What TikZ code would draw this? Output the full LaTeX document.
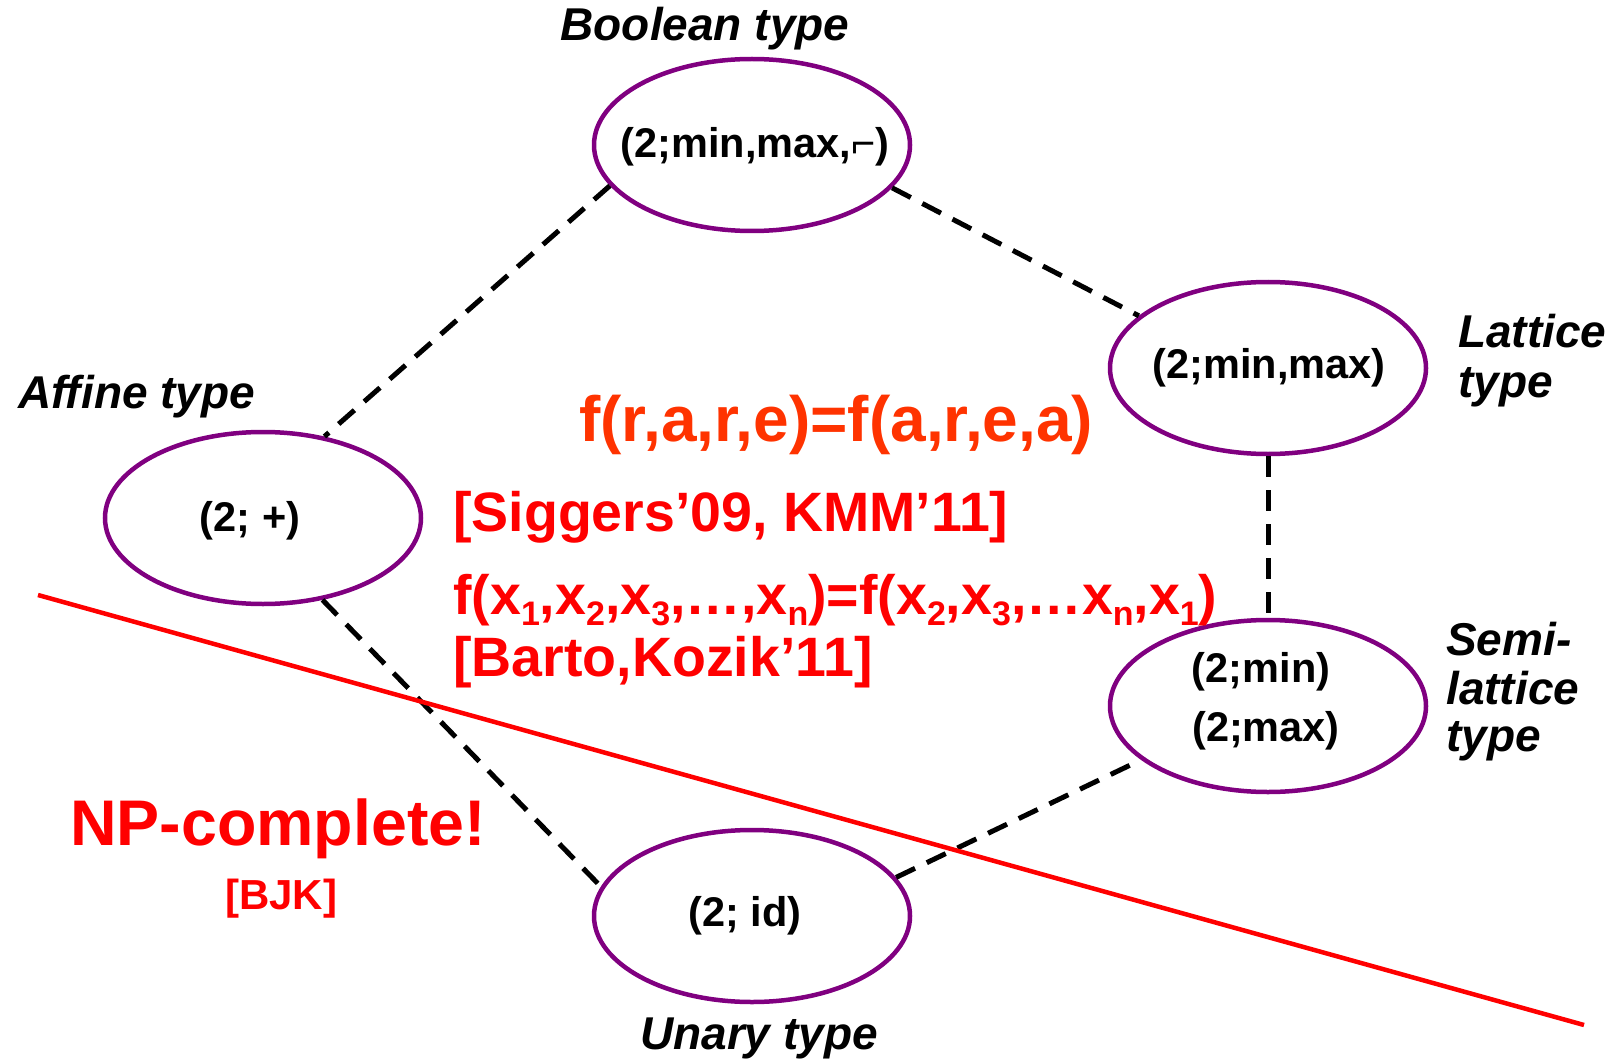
\documentclass[tikz,border=0pt]{standalone}
\usepackage{fontspec}
\setmainfont{Liberation Sans}
\usetikzlibrary{shapes.geometric}
\definecolor{ovalpurple}{RGB}{128,0,128}
\definecolor{eqorange}{RGB}{255,51,0}
% lowered small index for the cyclic term
\newcommand{\idx}[1]{\raisebox{-0.2em}{\fontsize{34}{34}\selectfont #1}}
\begin{document}
\begin{tikzpicture}[x=1pt,y=-1pt,
  oval/.style={ellipse, draw=ovalpurple, line width=4.5pt,
    minimum width=316pt, minimum height=172pt, inner sep=0pt},
  conn/.style={draw=black, line width=5pt, dash pattern=on 21pt off 13pt},
  cut/.style={draw=red, line width=4.5pt},
  typelabel/.style={font=\fontsize{46}{50}\selectfont\bfseries\itshape, inner sep=0pt},
  optext/.style={font=\fontsize{41.5}{45}\selectfont\bfseries, inner sep=0pt},
  refs/.style={text=red, font=\fontsize{55.5}{60}\selectfont\bfseries,
    inner sep=0pt, anchor=base west}]
\useasboundingbox (0,0) rectangle (1616,1059);

% clones on the two-element set
\node[oval] (bool) at (752,145) {};
\node[oval] (lat)  at (1268,368) {};
\node[oval] (semi) at (1268,706) {};
\node[oval] (aff)  at (263,518) {};
\node[oval] (un)   at (752,916) {};

\node[optext] (boolT) at (755,147) {(2;min,max,⌐)};
\node[optext] (latT)  at (1269,368) {(2;min,max)};
\node[optext] (semiT1) at (1261,672) {(2;min)};
\node[optext] (semiT2) at (1266,731) {(2;max)};
\node[optext] (affT)  at (250,521) {(2; +)};
\node[optext] (unT)   at (745,916) {(2; id)};

% order between the types
\draw[conn] (bool.196) -- (aff.53);
\draw[conn] (bool.343) -- (lat.158);
\draw[conn] (lat.south) -- (semi.north);
\draw[conn] (aff.306) -- (un.169);
\draw[conn] (un.15) -- (semi.203);

% type names
\node[typelabel, anchor=base] (boolL) at (705,41) {Boolean type};
\node[typelabel, anchor=base west] (affL) at (18,408) {Affine type};
\node[typelabel, anchor=base west] (latL1) at (1458,347) {Lattice};
\node[typelabel, anchor=base west] (latL2) at (1458,397) {type};
\node[typelabel, anchor=base west] (semiL1) at (1446,655) {Semi-};
\node[typelabel, anchor=base west] (semiL2) at (1446,704) {lattice};
\node[typelabel, anchor=base west] (semiL3) at (1446,751) {type};
\node[typelabel, anchor=base] (unL) at (759,1049) {Unary type};

% dividing line
\coordinate (cutA) at (38,595);
\coordinate (cutB) at (1584,1025);
\draw[cut] (cutA) -- (cutB);

% identities and references
\node[refs, text=eqorange, font=\fontsize{64}{68}\selectfont\bfseries] (eqA) at (579,441) {f(r,a,r,e)=f(a,r,e,a)};
\node[refs] (sig) at (453,531) {[Siggers’09, KMM’11]};
\node[refs] (eqB) at (453,614) {f(x\idx{1},x\idx{2},x\idx{3},…,x\idx{n})=f(x\idx{2},x\idx{3},…x\idx{n},x\idx{1})};
\node[refs] (bk) at (453,676) {[Barto,Kozik’11]};
\node[refs, font=\fontsize{64.5}{68}\selectfont\bfseries] (np) at (70,845) {NP-complete!};
\node[refs, font=\fontsize{42}{46}\selectfont\bfseries] (bjk) at (225,909) {[BJK]};
\end{tikzpicture}
\end{document}
